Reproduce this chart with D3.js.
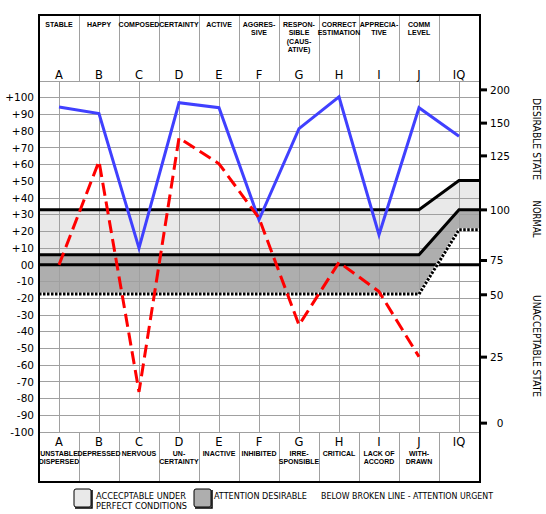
<!DOCTYPE html>
<html><head><meta charset="utf-8">
<script src="https://cdn.jsdelivr.net/npm/d3@7"></script>
<style>body{margin:0;background:#fff}svg{display:block}</style>
</head><body>
<svg id="c" width="546" height="514"></svg>
<script>
// ---------- data ----------
const categories = ["A","B","C","D","E","F","G","H","I","J","IQ"];
const topLabels = ["STABLE","HAPPY","COMPOSED","CERTAINTY","ACTIVE","AGGRES-|SIVE","RESPON-|SIBLE|(CAUS-|ATIVE)","CORRECT|ESTIMATION","APPRECIA-|TIVE","COMM|LEVEL",""];
const bottomLabels = ["UNSTABLE|DISPERSED","DEPRESSED","NERVOUS","UN-|CERTAINTY","INACTIVE","INHIBITED","IRRE-|SPONSIBLE","CRITICAL","LACK OF|ACCORD","WITH-|DRAWN",""];
const blueValues = [94.5, 90.5, 10, 97, 94, 27, 81.5, 100.5, 18, 94, 77];
const redValues  = [0, 62, -76, 76, 60.5, 28, -36, 1.5, -16, -55];
const leftTicks = d3.range(-100, 101, 10);
const iqTicks = [0, 25, 50, 75, 100, 125, 150, 200];
const iqOnLeftScale = [-94.7, -55.2, -17.9, 2.6, 32.9, 65.2, 84.8, 104.7];
const bandTop    = [33, 33, 33, 33, 33, 33, 33, 33, 33, 33, 50.5];
const bandMiddle = [6, 6, 6, 6, 6, 6, 6, 6, 6, 6, 33];
const bandDotted = [-17.5, -17.5, -17.5, -17.5, -17.5, -17.5, -17.5, -17.5, -17.5, -17.5, 21];
const zeroLine   = [0, 0, 0, 0, 0, 0, 0, 0, 0, 0, 0];
const rightTitles = [["DESIRABLE STATE", 139, 82], ["NORMAL", 219, 37], ["UNACCEPTABLE STATE", 346, 102]];
const legendTexts = [["ACCECPTABLE UNDER", 96, 0, 90], ["PERFECT CONDITIONS", 96, 1, 91], ["ATTENTION DESIRABLE", 214, 0, 93], ["BELOW BROKEN LINE - ATTENTION URGENT", 321, 0, 172]];

// ---------- layout ----------
const L = 39, R = 480, T = 15, HB = 81, PB = 432, B = 482;
const svg = d3.select("#c");
const x = d3.scaleBand().domain(categories).range([L, R - 1]).padding(0);
const cx = c => x(c) + x.bandwidth() / 2;
const y = d3.scaleLinear().domain([-100, 110]).range([PB, HB]);
const yIQ = d3.scaleLinear().domain(iqTicks).range(iqOnLeftScale.map(v => y(v)));
const GRID = "#a0a0a0";
const FONT = "'DejaVu Sans', sans-serif";
const SMALL = "'Liberation Sans', Arial, sans-serif";
const NARROW = "'Liberation Sans Narrow', 'DejaVu Sans Condensed', 'Liberation Sans', sans-serif";

// band polygons
function bandPts(vals) {
  const pts = [[L, y(vals[0])]];
  categories.forEach((c, i) => pts.push([cx(c), y(vals[i])]));
  pts.push([R, y(vals[vals.length - 1])]);
  return pts;
}
function area(upper, lower, fill) {
  const up = bandPts(upper), lo = bandPts(lower).reverse();
  svg.append("path").attr("d", d3.line()(up.concat(lo)) + "Z").attr("fill", fill);
}
area(bandTop, bandMiddle, "#e9e9e9");
area(bandMiddle, bandDotted, "#aeaeae");

// grid
const g = svg.append("g").attr("stroke", GRID).attr("stroke-width", 1).attr("shape-rendering", "crispEdges");
leftTicks.filter(v => v > -100).forEach(v => g.append("line").attr("x1", L).attr("x2", R).attr("y1", y(v)).attr("y2", y(v)));
g.append("line").attr("x1", L).attr("x2", R).attr("y1", HB).attr("y2", HB);
g.append("line").attr("x1", L).attr("x2", R).attr("y1", PB).attr("y2", PB);
categories.forEach(c => g.append("line").attr("x1", cx(c)).attr("x2", cx(c)).attr("y1", HB).attr("y2", PB));
categories.slice(1).forEach(c => {
  g.append("line").attr("x1", x(c)).attr("x2", x(c)).attr("y1", T).attr("y2", HB);
  g.append("line").attr("x1", x(c)).attr("x2", x(c)).attr("y1", PB).attr("y2", B);
});

// thick band lines
const line = d3.line();
[bandTop, bandMiddle, zeroLine].forEach(v => svg.append("path").attr("d", line(bandPts(v)))
  .attr("fill", "none").attr("stroke", "#000").attr("stroke-width", 3));
svg.append("path").attr("d", line(bandPts(bandDotted))).attr("fill", "none").attr("stroke", "#fff").attr("stroke-width", 3);
svg.append("path").attr("d", line(bandPts(bandDotted))).attr("fill", "none").attr("stroke", "#000").attr("stroke-width", 3).attr("stroke-dasharray", "2.5,1.5");

// series
const sLine = d3.line().x((d, i) => cx(categories[i])).y(d => y(d));
svg.append("path").attr("d", sLine(blueValues)).attr("fill", "none").attr("stroke", "#4040ff").attr("stroke-width", 3).attr("stroke-linejoin", "miter");
svg.append("path").attr("d", sLine(redValues)).attr("fill", "none").attr("stroke", "#ff0000").attr("stroke-width", 3).attr("stroke-dasharray", "13,6");

// borders
svg.append("rect").attr("x", L).attr("y", T).attr("width", R - L).attr("height", B - T)
  .attr("fill", "none").attr("stroke", "#000").attr("stroke-width", 1.5).attr("shape-rendering", "crispEdges");

// left axis labels
leftTicks.forEach(v => svg.append("text").attr("x", 34).attr("y", y(v)).attr("dy", "0.36em")
  .attr("text-anchor", "end").attr("font-family", FONT).attr("font-size", 10.5)
  .text(v > 0 ? "+" + v : v === 0 ? "00" : String(v)));

// right axis
iqTicks.forEach(v => {
  svg.append("line").attr("x1", R).attr("x2", R + 7).attr("y1", yIQ(v)).attr("y2", yIQ(v)).attr("stroke", "#000").attr("stroke-width", 3);
  svg.append("text").attr("x", R + 10).attr("y", yIQ(v)).attr("dy", "0.36em")
    .attr("font-family", FONT).attr("font-size", 10.5).text(v === 0 ? "\u00a0\u00a00" : v);
});
rightTitles.forEach(([t, cy, len]) => svg.append("text")
  .attr("transform", `translate(536,${cy}) rotate(90)`).attr("text-anchor", "middle").attr("dy", "0.35em")
  .attr("font-family", FONT).attr("font-size", 10).attr("textLength", len).attr("lengthAdjust", "spacingAndGlyphs").text(t));

// headers
categories.forEach((c, i) => {
  svg.append("text").attr("x", cx(c)).attr("y", 79).attr("text-anchor", "middle")
    .attr("font-family", FONT).attr("font-size", 11.5).text(c);
  svg.append("text").attr("x", cx(c)).attr("y", 446).attr("text-anchor", "middle")
    .attr("font-family", FONT).attr("font-size", 11.5).text(c);
  const tl = svg.append("text").attr("text-anchor", "middle").attr("font-family", SMALL).attr("font-size", 7).attr("font-weight", "bold");
  topLabels[i].split("|").filter(s => s).forEach((s, k) => tl.append("tspan").attr("x", cx(c)).attr("y", 27 + k * 8.3).text(s));
  const bl = svg.append("text").attr("text-anchor", "middle").attr("font-family", SMALL).attr("font-size", 7).attr("font-weight", "bold");
  bottomLabels[i].split("|").filter(s => s).forEach((s, k) => bl.append("tspan").attr("x", cx(c)).attr("y", 455.5 + k * 8).text(s));
});

// legend
function legBox(x0, fill) {
  svg.append("rect").attr("x", x0).attr("y", 489).attr("width", 17).attr("height", 18).attr("rx", 2)
    .attr("fill", fill).attr("stroke", "#000").attr("stroke-width", 1);
  svg.append("path").attr("d", `M${x0 + 18},${490} V${508} H${x0 + 1}`).attr("fill", "none").attr("stroke", "#000").attr("stroke-width", 1.5);
}
legBox(74, "#e9e9e9");
legBox(194, "#aeaeae");
legendTexts.forEach(([t, x0, row, len]) => svg.append("text").attr("x", x0).attr("y", 499 + row * 9.5)
  .attr("font-family", NARROW).attr("font-size", 9.5)
  .attr("textLength", len).attr("lengthAdjust", "spacingAndGlyphs").text(t));
</script>
</body></html>
